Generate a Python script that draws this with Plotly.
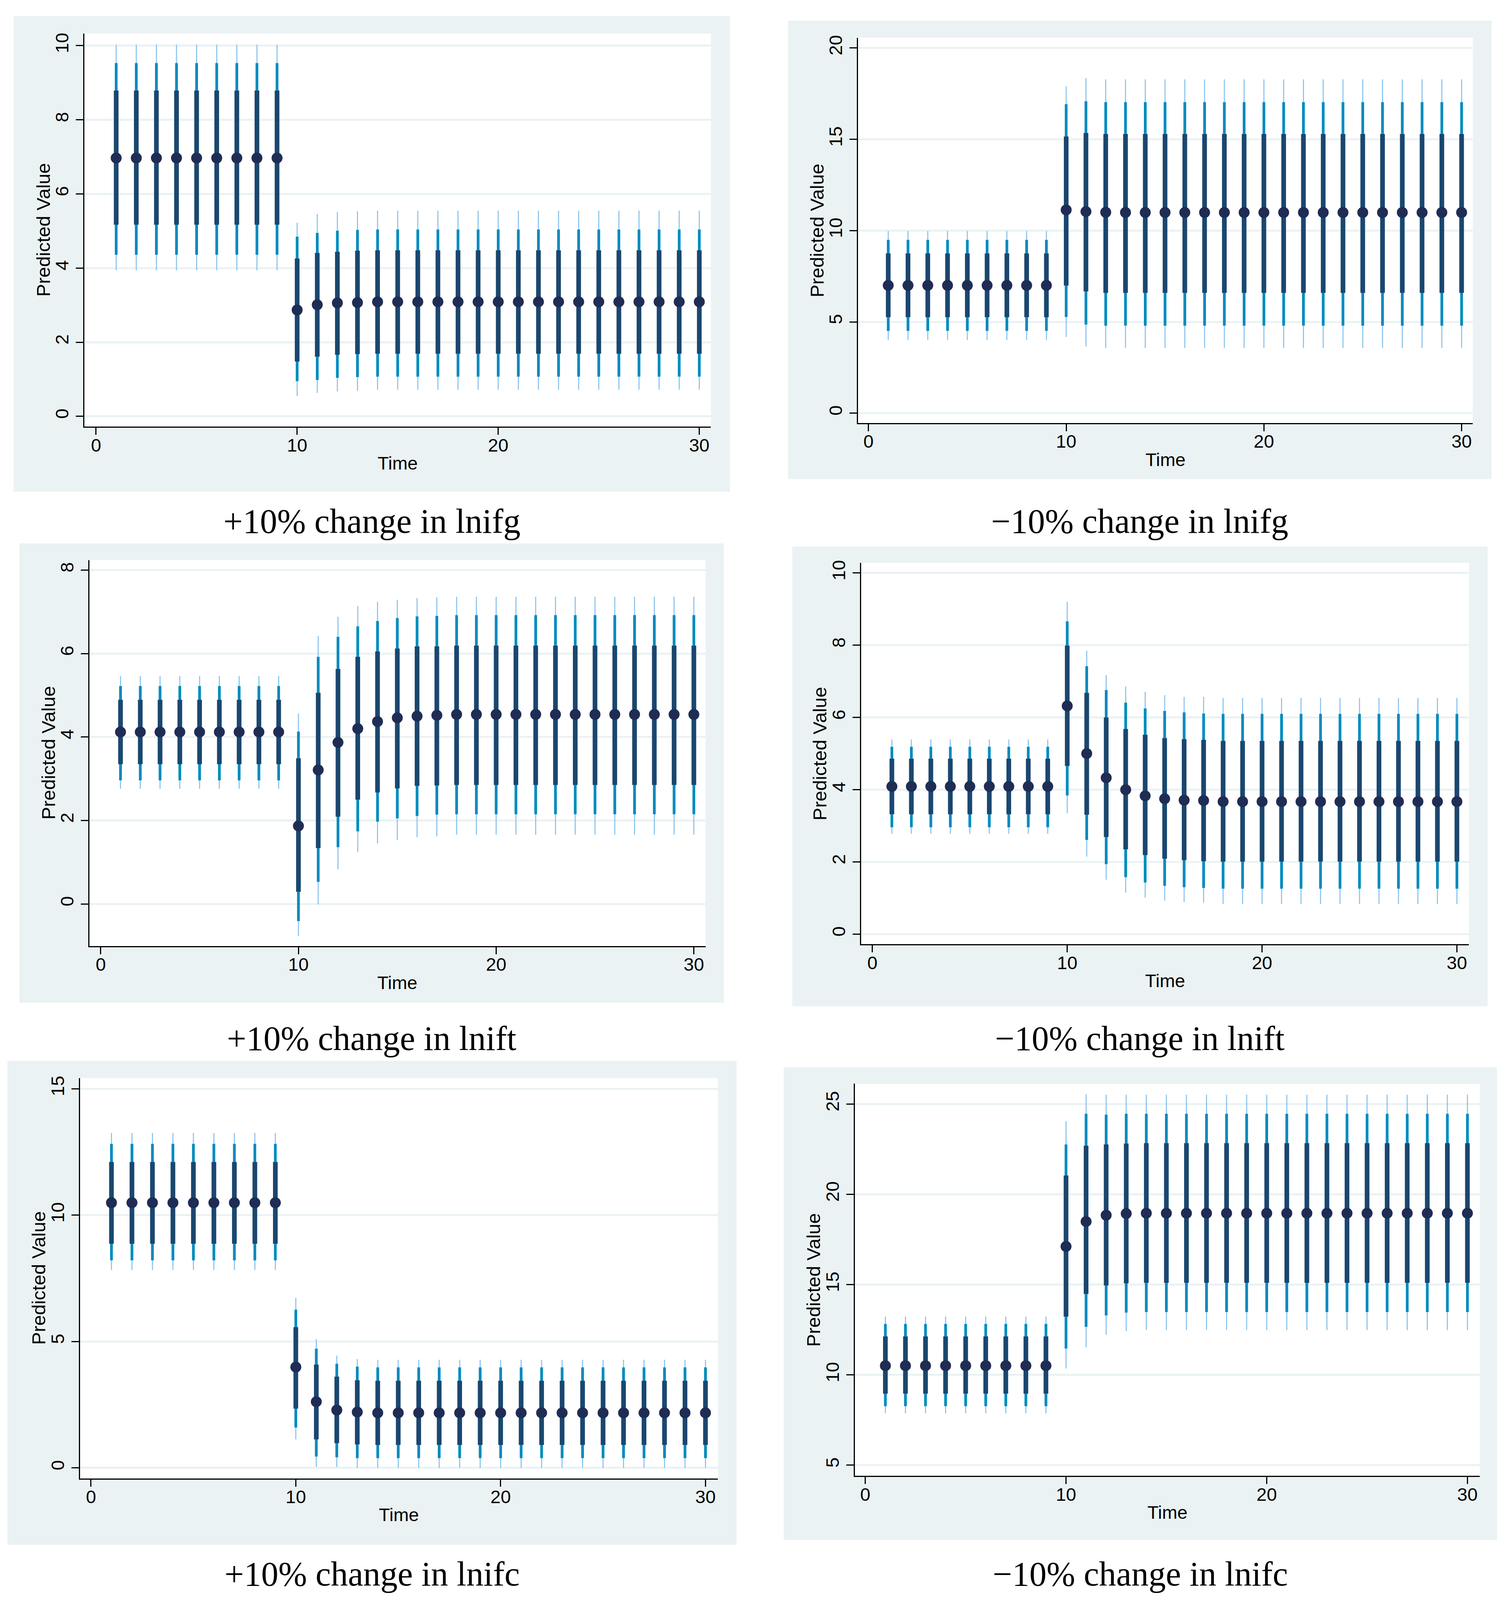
import plotly.graph_objects as go

W, H = 3869, 4496   # reference canvas, used to turn pixel layout into paper fractions
TIME = list(range(1, 31))

# ---------------- Panel A: +10% change in lnifg ----------------
a_c = [6.97, 6.97, 6.97, 6.97, 6.97, 6.97, 6.97, 6.97, 6.97,
       2.87, 3.01, 3.06, 3.07, 3.09, 3.09, 3.09, 3.09, 3.09, 3.09, 3.09,
       3.09, 3.09, 3.09, 3.09, 3.09, 3.09, 3.09, 3.09, 3.09, 3.09]
a_ihi = [8.79, 8.79, 8.79, 8.79, 8.79, 8.79, 8.79, 8.79, 8.79,
         4.26, 4.41, 4.44, 4.47, 4.48, 4.48, 4.48, 4.48, 4.48, 4.48, 4.48,
         4.48, 4.48, 4.48, 4.48, 4.48, 4.48, 4.48, 4.48, 4.48, 4.48]
a_ilo = [5.17, 5.17, 5.17, 5.17, 5.17, 5.17, 5.17, 5.17, 5.17,
         1.48, 1.61, 1.66, 1.68, 1.69, 1.69, 1.69, 1.69, 1.69, 1.69, 1.69,
         1.69, 1.69, 1.69, 1.69, 1.69, 1.69, 1.69, 1.69, 1.69, 1.69]
a_mhi = [9.53, 9.53, 9.53, 9.53, 9.53, 9.53, 9.53, 9.53, 9.53,
         4.85, 4.95, 5.01, 5.03, 5.04, 5.04, 5.04, 5.04, 5.04, 5.04, 5.04,
         5.04, 5.04, 5.04, 5.04, 5.04, 5.04, 5.04, 5.04, 5.04, 5.04]
a_mlo = [4.36, 4.36, 4.36, 4.36, 4.36, 4.36, 4.36, 4.36, 4.36,
         0.95, 0.98, 1.04, 1.06, 1.07, 1.07, 1.07, 1.07, 1.07, 1.07, 1.07,
         1.07, 1.07, 1.07, 1.07, 1.07, 1.07, 1.07, 1.07, 1.07, 1.07]
a_ohi = [10.03, 10.03, 10.03, 10.03, 10.03, 10.03, 10.03, 10.03, 10.03,
         5.22, 5.46, 5.51, 5.53, 5.55, 5.55, 5.55, 5.55, 5.55, 5.55, 5.55,
         5.55, 5.55, 5.55, 5.55, 5.55, 5.55, 5.55, 5.55, 5.55, 5.55]
a_olo = [3.94, 3.94, 3.94, 3.94, 3.94, 3.94, 3.94, 3.94, 3.94,
         0.55, 0.63, 0.67, 0.69, 0.72, 0.72, 0.72, 0.72, 0.72, 0.72, 0.72,
         0.72, 0.72, 0.72, 0.72, 0.72, 0.72, 0.72, 0.72, 0.72, 0.72]

# ---------------- Panel B: -10% change in lnifg ----------------
b_c = [7.00, 7.00, 7.00, 7.00, 7.00, 7.00, 7.00, 7.00, 7.00,
       11.13, 11.04, 11.00, 10.99, 10.99, 10.99, 10.99, 10.99, 10.99, 10.99, 10.99,
       10.99, 10.99, 10.99, 10.99, 10.99, 10.99, 10.99, 10.99, 10.99, 10.99]
b_ihi = [8.75, 8.75, 8.75, 8.75, 8.75, 8.75, 8.75, 8.75, 8.75,
         15.15, 15.34, 15.29, 15.29, 15.29, 15.29, 15.29, 15.29, 15.29, 15.29, 15.29,
         15.29, 15.29, 15.29, 15.29, 15.29, 15.29, 15.29, 15.29, 15.29, 15.29]
b_ilo = [5.26, 5.26, 5.26, 5.26, 5.26, 5.26, 5.26, 5.26, 5.26,
         6.99, 6.67, 6.59, 6.59, 6.59, 6.59, 6.59, 6.59, 6.59, 6.59, 6.59,
         6.59, 6.59, 6.59, 6.59, 6.59, 6.59, 6.59, 6.59, 6.59, 6.59]
b_mhi = [9.49, 9.49, 9.49, 9.49, 9.49, 9.49, 9.49, 9.49, 9.49,
         16.92, 17.08, 17.03, 17.03, 17.03, 17.03, 17.03, 17.03, 17.03, 17.03, 17.03,
         17.03, 17.03, 17.03, 17.03, 17.03, 17.03, 17.03, 17.03, 17.03, 17.03]
b_mlo = [4.51, 4.51, 4.51, 4.51, 4.51, 4.51, 4.51, 4.51, 4.51,
         5.27, 4.85, 4.79, 4.79, 4.79, 4.79, 4.79, 4.79, 4.79, 4.79, 4.79,
         4.79, 4.79, 4.79, 4.79, 4.79, 4.79, 4.79, 4.79, 4.79, 4.79]
b_ohi = [9.98, 9.98, 9.98, 9.98, 9.98, 9.98, 9.98, 9.98, 9.98,
         17.90, 18.35, 18.28, 18.28, 18.28, 18.28, 18.28, 18.28, 18.28, 18.28, 18.28,
         18.28, 18.28, 18.28, 18.28, 18.28, 18.28, 18.28, 18.28, 18.28, 18.28]
b_olo = [4.01, 4.01, 4.01, 4.01, 4.01, 4.01, 4.01, 4.01, 4.01,
         4.18, 3.66, 3.58, 3.58, 3.58, 3.58, 3.58, 3.58, 3.58, 3.58, 3.58,
         3.58, 3.58, 3.58, 3.58, 3.58, 3.58, 3.58, 3.58, 3.58, 3.58]

# ---------------- Panel C: +10% change in lnift ----------------
c_c = [4.12, 4.12, 4.12, 4.12, 4.12, 4.12, 4.12, 4.12, 4.12,
       1.87, 3.21, 3.87, 4.20, 4.37, 4.46, 4.50, 4.52, 4.54, 4.54, 4.54,
       4.54, 4.54, 4.54, 4.54, 4.54, 4.54, 4.54, 4.54, 4.54, 4.54]
c_ihi = [4.89, 4.89, 4.89, 4.89, 4.89, 4.89, 4.89, 4.89, 4.89,
         3.49, 5.06, 5.63, 5.92, 6.05, 6.12, 6.17, 6.17, 6.19, 6.19, 6.19,
         6.19, 6.19, 6.19, 6.19, 6.19, 6.19, 6.19, 6.19, 6.19, 6.19]
c_ilo = [3.35, 3.35, 3.35, 3.35, 3.35, 3.35, 3.35, 3.35, 3.35,
         0.29, 1.34, 2.09, 2.50, 2.67, 2.77, 2.83, 2.84, 2.85, 2.85, 2.85,
         2.85, 2.85, 2.85, 2.85, 2.85, 2.85, 2.85, 2.85, 2.85, 2.85]
c_mhi = [5.22, 5.22, 5.22, 5.22, 5.22, 5.22, 5.22, 5.22, 5.22,
         4.13, 5.92, 6.40, 6.65, 6.78, 6.85, 6.89, 6.90, 6.92, 6.92, 6.92,
         6.92, 6.92, 6.92, 6.92, 6.92, 6.92, 6.92, 6.92, 6.92, 6.92]
c_mlo = [2.96, 2.96, 2.96, 2.96, 2.96, 2.96, 2.96, 2.96, 2.96,
         -0.41, 0.53, 1.36, 1.74, 1.97, 2.05, 2.11, 2.14, 2.15, 2.15, 2.15,
         2.15, 2.15, 2.15, 2.15, 2.15, 2.15, 2.15, 2.15, 2.15, 2.15]
c_ohi = [5.46, 5.46, 5.46, 5.46, 5.46, 5.46, 5.46, 5.46, 5.46,
         4.56, 6.42, 6.88, 7.14, 7.24, 7.29, 7.33, 7.35, 7.36, 7.36, 7.36,
         7.36, 7.36, 7.36, 7.36, 7.36, 7.36, 7.36, 7.36, 7.36, 7.36]
c_olo = [2.76, 2.76, 2.76, 2.76, 2.76, 2.76, 2.76, 2.76, 2.76,
         -0.77, -0.01, 0.83, 1.24, 1.45, 1.53, 1.60, 1.62, 1.66, 1.66, 1.66,
         1.66, 1.66, 1.66, 1.66, 1.66, 1.66, 1.66, 1.66, 1.66, 1.66]

# ---------------- Panel D: -10% change in lnift ----------------
d_c = [4.09, 4.09, 4.09, 4.09, 4.09, 4.09, 4.09, 4.09, 4.09,
       6.32, 5.00, 4.33, 4.00, 3.83, 3.75, 3.71, 3.70, 3.67, 3.67, 3.67,
       3.67, 3.67, 3.67, 3.67, 3.67, 3.67, 3.67, 3.67, 3.67, 3.67]
d_ihi = [4.86, 4.86, 4.86, 4.86, 4.86, 4.86, 4.86, 4.86, 4.86,
         7.99, 6.68, 6.00, 5.68, 5.52, 5.43, 5.40, 5.38, 5.35, 5.35, 5.35,
         5.35, 5.35, 5.35, 5.35, 5.35, 5.35, 5.35, 5.35, 5.35, 5.35]
d_ilo = [3.32, 3.32, 3.32, 3.32, 3.32, 3.32, 3.32, 3.32, 3.32,
         4.66, 3.31, 2.69, 2.35, 2.19, 2.09, 2.05, 2.02, 2.01, 2.01, 2.01,
         2.01, 2.01, 2.01, 2.01, 2.01, 2.01, 2.01, 2.01, 2.01, 2.01]
d_mhi = [5.19, 5.19, 5.19, 5.19, 5.19, 5.19, 5.19, 5.19, 5.19,
         8.66, 7.42, 6.76, 6.41, 6.25, 6.18, 6.14, 6.11, 6.10, 6.10, 6.10,
         6.10, 6.10, 6.10, 6.10, 6.10, 6.10, 6.10, 6.10, 6.10, 6.10]
d_mlo = [2.96, 2.96, 2.96, 2.96, 2.96, 2.96, 2.96, 2.96, 2.96,
         3.84, 2.61, 1.94, 1.58, 1.43, 1.34, 1.30, 1.28, 1.26, 1.26, 1.26,
         1.26, 1.26, 1.26, 1.26, 1.26, 1.26, 1.26, 1.26, 1.26, 1.26]
d_ohi = [5.39, 5.39, 5.39, 5.39, 5.39, 5.39, 5.39, 5.39, 5.39,
         9.20, 7.85, 7.17, 6.86, 6.71, 6.62, 6.57, 6.57, 6.54, 6.54, 6.54,
         6.54, 6.54, 6.54, 6.54, 6.54, 6.54, 6.54, 6.54, 6.54, 6.54]
d_olo = [2.78, 2.78, 2.78, 2.78, 2.78, 2.78, 2.78, 2.78, 2.78,
         3.35, 2.15, 1.51, 1.15, 1.01, 0.93, 0.89, 0.88, 0.84, 0.84, 0.84,
         0.84, 0.84, 0.84, 0.84, 0.84, 0.84, 0.84, 0.84, 0.84, 0.84]

# ---------------- Panel E: +10% change in lnifc ----------------
e_c = [10.49, 10.49, 10.49, 10.49, 10.49, 10.49, 10.49, 10.49, 10.49,
       3.99, 2.62, 2.29, 2.21, 2.18, 2.18, 2.18, 2.18, 2.18, 2.18, 2.18,
       2.18, 2.18, 2.18, 2.18, 2.18, 2.18, 2.18, 2.18, 2.18, 2.18]
e_ihi = [12.10, 12.10, 12.10, 12.10, 12.10, 12.10, 12.10, 12.10, 12.10,
         5.57, 4.09, 3.61, 3.47, 3.45, 3.45, 3.45, 3.45, 3.45, 3.45, 3.45,
         3.45, 3.45, 3.45, 3.45, 3.45, 3.45, 3.45, 3.45, 3.45, 3.45]
e_ilo = [8.87, 8.87, 8.87, 8.87, 8.87, 8.87, 8.87, 8.87, 8.87,
         2.35, 1.13, 0.98, 0.93, 0.91, 0.91, 0.91, 0.91, 0.91, 0.91, 0.91,
         0.91, 0.91, 0.91, 0.91, 0.91, 0.91, 0.91, 0.91, 0.91, 0.91]
e_mhi = [12.82, 12.82, 12.82, 12.82, 12.82, 12.82, 12.82, 12.82, 12.82,
         6.26, 4.72, 4.12, 4.01, 3.98, 3.98, 3.98, 3.98, 3.98, 3.98, 3.98,
         3.98, 3.98, 3.98, 3.98, 3.98, 3.98, 3.98, 3.98, 3.98, 3.98]
e_mlo = [8.21, 8.21, 8.21, 8.21, 8.21, 8.21, 8.21, 8.21, 8.21,
         1.60, 0.45, 0.42, 0.39, 0.39, 0.39, 0.39, 0.39, 0.39, 0.39, 0.39,
         0.39, 0.39, 0.39, 0.39, 0.39, 0.39, 0.39, 0.39, 0.39, 0.39]
e_ohi = [13.25, 13.25, 13.25, 13.25, 13.25, 13.25, 13.25, 13.25, 13.25,
         6.73, 5.10, 4.44, 4.31, 4.28, 4.28, 4.28, 4.28, 4.28, 4.28, 4.28,
         4.28, 4.28, 4.28, 4.28, 4.28, 4.28, 4.28, 4.28, 4.28, 4.28]
e_olo = [7.83, 7.83, 7.83, 7.83, 7.83, 7.83, 7.83, 7.83, 7.83,
         1.13, 0.04, 0.04, 0.00, 0.00, 0.00, 0.00, 0.00, 0.00, 0.00, 0.00,
         0.00, 0.00, 0.00, 0.00, 0.00, 0.00, 0.00, 0.00, 0.00, 0.00]

# ---------------- Panel F: -10% change in lnifc ----------------
f_c = [10.51, 10.51, 10.51, 10.51, 10.51, 10.51, 10.51, 10.51, 10.51,
       17.11, 18.49, 18.84, 18.93, 18.95, 18.95, 18.95, 18.95, 18.95, 18.95, 18.95,
       18.95, 18.95, 18.95, 18.95, 18.95, 18.95, 18.95, 18.95, 18.95, 18.95]
f_ihi = [12.13, 12.13, 12.13, 12.13, 12.13, 12.13, 12.13, 12.13, 12.13,
         21.04, 22.69, 22.76, 22.81, 22.83, 22.83, 22.83, 22.83, 22.83, 22.83, 22.83,
         22.83, 22.83, 22.83, 22.83, 22.83, 22.83, 22.83, 22.83, 22.83, 22.83]
f_ilo = [8.96, 8.96, 8.96, 8.96, 8.96, 8.96, 8.96, 8.96, 8.96,
         13.23, 14.48, 14.95, 15.07, 15.10, 15.10, 15.10, 15.10, 15.10, 15.10, 15.10,
         15.10, 15.10, 15.10, 15.10, 15.10, 15.10, 15.10, 15.10, 15.10, 15.10]
f_mhi = [12.82, 12.82, 12.82, 12.82, 12.82, 12.82, 12.82, 12.82, 12.82,
         22.76, 24.46, 24.41, 24.46, 24.46, 24.46, 24.46, 24.46, 24.46, 24.46, 24.46,
         24.46, 24.46, 24.46, 24.46, 24.46, 24.46, 24.46, 24.46, 24.46, 24.46]
f_mlo = [8.27, 8.27, 8.27, 8.27, 8.27, 8.27, 8.27, 8.27, 8.27,
         11.46, 12.66, 13.29, 13.45, 13.48, 13.48, 13.48, 13.48, 13.48, 13.48, 13.48,
         13.48, 13.48, 13.48, 13.48, 13.48, 13.48, 13.48, 13.48, 13.48, 13.48]
f_ohi = [13.23, 13.23, 13.23, 13.23, 13.23, 13.23, 13.23, 13.23, 13.23,
         24.04, 25.54, 25.51, 25.51, 25.51, 25.51, 25.51, 25.51, 25.51, 25.51, 25.51,
         25.51, 25.51, 25.51, 25.51, 25.51, 25.51, 25.51, 25.51, 25.51, 25.51]
f_olo = [7.87, 7.87, 7.87, 7.87, 7.87, 7.87, 7.87, 7.87, 7.87,
         10.35, 11.53, 12.22, 12.42, 12.48, 12.48, 12.48, 12.48, 12.48, 12.48, 12.48,
         12.48, 12.48, 12.48, 12.48, 12.48, 12.48, 12.48, 12.48, 12.48, 12.48]

captions = ["+10% change in lnifg", "\u221210% change in lnifg",
            "+10% change in lnift", "\u221210% change in lnift",
            "+10% change in lnifc", "\u221210% change in lnifc"]
y_ticks = [[0, 2, 4, 6, 8, 10], [0, 5, 10, 15, 20], [0, 2, 4, 6, 8],
           [0, 2, 4, 6, 8, 10], [0, 5, 10, 15], [5, 10, 15, 20, 25]]
x_ticks = [0, 10, 20, 30]

series = [
    (a_c, a_ihi, a_ilo, a_mhi, a_mlo, a_ohi, a_olo),
    (b_c, b_ihi, b_ilo, b_mhi, b_mlo, b_ohi, b_olo),
    (c_c, c_ihi, c_ilo, c_mhi, c_mlo, c_ohi, c_olo),
    (d_c, d_ihi, d_ilo, d_mhi, d_mlo, d_ohi, d_olo),
    (e_c, e_ihi, e_ilo, e_mhi, e_mlo, e_ohi, e_olo),
    (f_c, f_ihi, f_ilo, f_mhi, f_mlo, f_ohi, f_olo),
]

# ---------------- layout geometry (reference pixels) ----------------
plot_px = [(209, 1820, 78, 1189), (2198, 3779, 90, 1179),
           (222, 1806, 1566, 2657), (2206, 3769, 1574, 2652),
           (198, 1838, 3030, 4161), (2190, 3797, 3046, 4154)]
bg_px = [(27, 1869, 29, 1373), (2018, 3827, 42, 1337),
         (42, 1853, 1519, 2817), (2029, 3817, 1528, 2827),
         (11, 1886, 2981, 4349), (2007, 3841, 2999, 4335)]
x_ranges = [(-0.58, 30.58), (-0.53, 30.57), (-0.57, 30.59),
            (-0.58, 30.62), (-0.53, 30.61), (-0.52, 30.62)]
y_ranges = [(-0.277, 10.33), (-0.54, 20.56), (-1.01, 8.24),
            (-0.28, 10.28), (-0.41, 15.42), (4.41, 26.12)]
caption_y = [1456, 1456, 2918, 2918, 4431, 4431]

C_OUT = "#88C3EC"
C_MID = "#008BBF"
C_IN = "#1A476F"
C_DOT = "#1F2D55"
C_BG = "#EAF2F3"
SANS = "Liberation Sans, Arial, sans-serif"
SERIF = "Liberation Serif, Times New Roman, serif"


def fx(px):
    return px / W


def fy(px):
    return 1 - px / H


def segments(lo, hi):
    xs, ys = [], []
    for t, l, h in zip(TIME, lo, hi):
        xs += [t, t, None]
        ys += [l, h, None]
    return xs, ys


fig = go.Figure()
shapes = []
annotations = []
layout_axes = {}

for i in range(6):
    n = "" if i == 0 else str(i + 1)
    xa, ya = "x" + n, "y" + n
    c, ihi, ilo, mhi, mlo, ohi, olo = series[i]
    for lo, hi, col, w in [(olo, ohi, C_OUT, 2.7), (mlo, mhi, C_MID, 7),
                           (ilo, ihi, C_IN, 12)]:
        xs, ys = segments(lo, hi)
        fig.add_trace(go.Scatter(x=xs, y=ys, mode="lines",
                                 line=dict(color=col, width=w),
                                 xaxis=xa, yaxis=ya, showlegend=False,
                                 hoverinfo="skip"))
    fig.add_trace(go.Scatter(x=TIME, y=c, mode="markers",
                             marker=dict(color=C_DOT, size=28, line=dict(width=0)),
                             xaxis=xa, yaxis=ya, showlegend=False))

    px0, px1, pyt, pyb = plot_px[i]
    bx0, bx1, byt, byb = bg_px[i]
    shapes.append(dict(type="rect", xref="paper", yref="paper", layer="below",
                       x0=fx(bx0), x1=fx(bx1), y0=fy(byb), y1=fy(byt),
                       fillcolor=C_BG, line=dict(width=0)))
    shapes.append(dict(type="rect", xref="paper", yref="paper", layer="below",
                       x0=fx(px0), x1=fx(px1), y0=fy(pyb), y1=fy(pyt),
                       fillcolor="white", line=dict(width=0)))

    layout_axes["xaxis" + n] = dict(
        domain=[fx(px0), fx(px1)], range=list(x_ranges[i]), anchor=ya,
        tickvals=x_ticks, ticks="outside", ticklen=18, tickwidth=3,
        tickcolor="black", showline=True, linecolor="black", linewidth=3,
        showgrid=False, zeroline=False, ticklabelstandoff=-14,
        tickfont=dict(family=SANS, size=47, color="black"), fixedrange=True)
    layout_axes["yaxis" + n] = dict(
        domain=[fy(pyb), fy(pyt)], range=list(y_ranges[i]), anchor=xa,
        tickvals=y_ticks[i], tickangle=-90, ticks="outside", ticklen=19,
        tickwidth=3, tickcolor="black", showline=True, linecolor="black",
        linewidth=3, showgrid=True, gridcolor=C_BG, gridwidth=5,
        zeroline=False, ticklabelstandoff=0,
        tickfont=dict(family=SANS, size=47, color="black"), fixedrange=True)

    annotations.append(dict(text="Time", xref="paper", yref="paper",
                            x=fx((px0 + px1) / 2), y=fy(pyb + 103),
                            xanchor="center", yanchor="middle", showarrow=False,
                            font=dict(family=SANS, size=47, color="black")))
    annotations.append(dict(text="Predicted Value", xref="paper", yref="paper",
                            x=fx(px0 - 106), y=fy((pyt + pyb) / 2),
                            textangle=-90, xanchor="center", yanchor="middle",
                            showarrow=False,
                            font=dict(family=SANS, size=49, color="black")))
    annotations.append(dict(text=captions[i], xref="paper", yref="paper",
                            x=fx((bx0 + bx1) / 2), y=fy(caption_y[i]),
                            xanchor="center", yanchor="middle", showarrow=False,
                            font=dict(family=SERIF, size=88, color="black")))

# The figure fills the browser window, so the whole 2x3 grid stays visible
fig.update_layout(autosize=True,
                  margin=dict(l=0, r=0, t=0, b=0, pad=0),
                  paper_bgcolor="white", plot_bgcolor="white",
                  shapes=shapes, annotations=annotations, showlegend=False,
                  **layout_axes)

fig.write_html("out.html", default_width="100%", default_height="100%",
               config={"responsive": True, "displayModeBar": False})
